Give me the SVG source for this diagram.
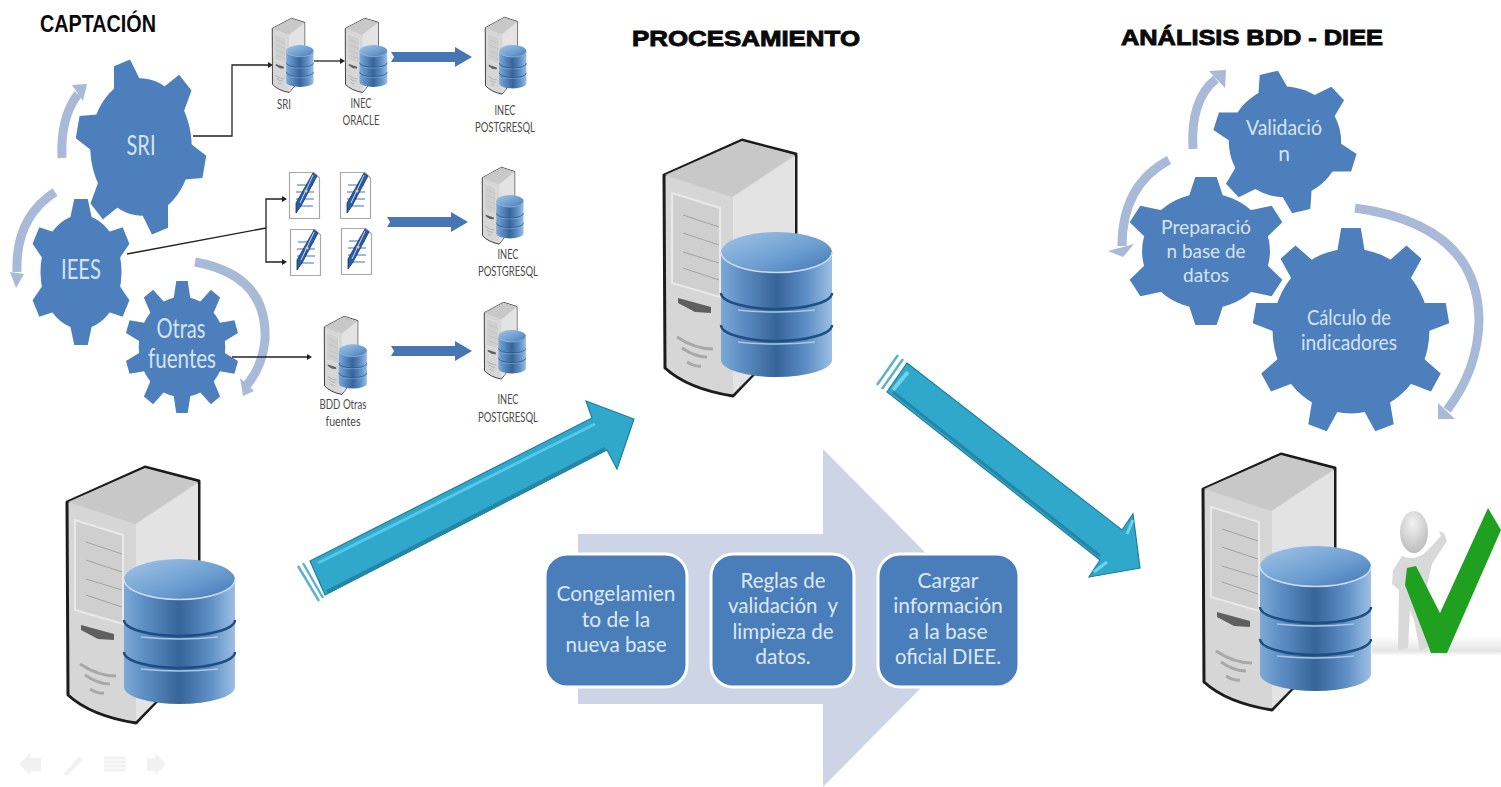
<svg xmlns="http://www.w3.org/2000/svg" xmlns:xlink="http://www.w3.org/1999/xlink" width="1501" height="787" viewBox="0 0 1501 787">
<style>
text{font-family:"Lato","Liberation Sans",sans-serif;text-anchor:middle}
.gt{fill:#d6e3f2}
.bt{fill:#dde8f5;font-size:21px}
.sm{fill:#4a4a4a;font-size:13px}
.title{font-family:"Liberation Sans",Arial,sans-serif;font-weight:bold;fill:#0a0a0a;text-anchor:start}
.heavy{stroke:#0a0a0a;stroke-width:.9px}
.gear{fill:#4c7fbc}
.cycle{fill:none;stroke:#a9b9d8;stroke-width:9}
.head{fill:#a9b9d8}
.fat{fill:#4676b4}
.ln{fill:none;stroke:#222;stroke-width:1.3}
.nav{fill:#f1f1f1}
.teal{fill:#2fa8cc;stroke:#1f7f9e;stroke-width:1.200}
</style>
<defs>
<linearGradient id="cyl" x1="0" x2="1" y1="0" y2="0"><stop offset="0" stop-color="#7da9d6"/><stop offset=".18" stop-color="#5e8fc4"/><stop offset=".5" stop-color="#376499"/><stop offset=".78" stop-color="#5f90c6"/><stop offset="1" stop-color="#9dbfe4"/></linearGradient>
<linearGradient id="cyltop" x1="0" x2="1" y1="0" y2="1"><stop offset="0" stop-color="#a2c4e6"/><stop offset=".6" stop-color="#6a9ccf"/><stop offset="1" stop-color="#3f76b2"/></linearGradient>
<linearGradient id="shadow" x1="0" x2="0" y1="0" y2="1"><stop offset="0" stop-color="#fff"/><stop offset=".75" stop-color="#e4e4e4"/><stop offset="1" stop-color="#fff"/></linearGradient>
<radialGradient id="headg" cx=".45" cy=".3" r=".8"><stop offset="0" stop-color="#f2f2f2"/><stop offset="1" stop-color="#b5b5b5"/></radialGradient>
<g id="server">
<path d="M1,36 L79,1 L133,15 L133,200 L90,236 L70,257 Q25,250 2,229 Z" fill="#d6d6d6" stroke="#1c1c1c" stroke-width="3" stroke-linejoin="round"/>
<path d="M2,36 L79,2 L132,16 L69,58 Z" fill="#c8c8c8"/>
<path d="M70,58 L132,17 L132,200 L90,235 L70,255 Z" fill="#e3e3e3"/>
<path d="M9,54 L57,69 L57,158 L9,144 Z" fill="#cfcfcf" stroke="#e9e9e9" stroke-width="2"/>
<path d="M20,76 L56,88 M20,94 L56,106 M20,113 L56,124 M20,129 L56,141" stroke="#a3a3a3" fill="none"/>
<path d="M15,159 L48,168 L48,174 L32,173 L15,164 Z" fill="#5f5f5f"/>
<path d="M14,198 Q32,210 50,210 M19,209 Q32,218 44,218 M24,223 Q32,228 38,227" stroke="#a8a8a8" stroke-width="3" fill="none"/>
<path d="M58,113 V221 A55.5,17 0 0 0 169,221 V113 Z" fill="url(#cyl)"/>
<ellipse cx="113.500" cy="113.500" rx="55.500" ry="20.500" fill="url(#cyltop)"/>
<path d="M58,113 A55.500,20.500 0 0 0 169,113" fill="none" stroke="#c9ddf2" stroke-width="1.500"/>
<path d="M58,154 A55.500,16 0 0 0 169,154 M58,186 A55.500,16 0 0 0 169,186" fill="none" stroke="#1f4f82" stroke-width="2.500"/>
<path d="M75,171 Q113,175 152,171 M75,203 Q113,207 152,203" fill="none" stroke="#a9c8e8" stroke-width="1.500"/>
</g>
<polygon id="t" points="-22,-70 -13,-100 13,-100 22,-70"/>
<polygon id="tn" points="-15,-72 -10,-100 10,-100 15,-72"/>
<g id="gear6"><circle r="78"/><use href="#t"/><use href="#t" transform="rotate(60)"/><use href="#t" transform="rotate(120)"/><use href="#t" transform="rotate(180)"/><use href="#t" transform="rotate(240)"/><use href="#t" transform="rotate(300)"/></g>
<g id="gear9"><circle r="80"/><use href="#tn"/><use href="#tn" transform="rotate(40)"/><use href="#tn" transform="rotate(80)"/><use href="#tn" transform="rotate(120)"/><use href="#tn" transform="rotate(160)"/><use href="#tn" transform="rotate(200)"/><use href="#tn" transform="rotate(240)"/><use href="#tn" transform="rotate(280)"/><use href="#tn" transform="rotate(320)"/></g>
<g id="gear10"><circle r="76"/><use href="#tn"/><use href="#tn" transform="rotate(36)"/><use href="#tn" transform="rotate(72)"/><use href="#tn" transform="rotate(108)"/><use href="#tn" transform="rotate(144)"/><use href="#tn" transform="rotate(180)"/><use href="#tn" transform="rotate(216)"/><use href="#tn" transform="rotate(252)"/><use href="#tn" transform="rotate(288)"/><use href="#tn" transform="rotate(324)"/></g>
<g id="doc">
<path d="M.5,.5 H25 L30.500,6 V46.500 H.5 Z" fill="#fff" stroke="#a9a9a9" stroke-width="1.200"/>
<path d="M8,13 H24 M7,20 H25 M7,27 H25 M10,34 H24" stroke="#7ea3d6" stroke-width="1.300" fill="none"/>
<path d="M24,1 L28,4 L12,34 L7,41 L7,31 Z" fill="#2a5ca8" stroke="#16336a" stroke-width=".8"/>
<path d="M24,3 L11,31" stroke="#c9dcf4" stroke-width="1"/>
<circle cx="17" cy="19" r="1.600" fill="#d9c98c"/>
</g>
<polygon id="fat" points="0,-5 3,0 0,5 64,5 64,10 81,0 64,-10 64,-5" class="fat"/>
</defs>

<rect width="1501" height="787" fill="#fff"/>

<g id="process-arrow"><polygon points="578,534 823,534 823,449 990,618 823,787 823,704 578,704" fill="#cdd4e5"/></g>

<g id="titles">
<text class="title" x="40" y="32" font-size="24" textLength="116" lengthAdjust="spacingAndGlyphs">CAPTACIÓN</text>
<text class="title heavy" x="632" y="46" font-size="22" textLength="228" lengthAdjust="spacingAndGlyphs">PROCESAMIENTO</text>
<text class="title heavy" x="1121" y="45" font-size="22" textLength="262" lengthAdjust="spacingAndGlyphs">ANÁLISIS BDD - DIEE</text>
</g>

<g id="cycle-arrows">
<path class="cycle" d="M62,158 Q60,118 78,94"/><polygon class="head" points="72,85 87,84 83,101"/>
<path class="cycle" d="M55,192 Q15,218 17,272"/><polygon class="head" points="10,272 24,274 16,288"/>
<path class="cycle" d="M195,262 Q268,275 265,340 Q262,368 246,386"/><polygon class="head" points="240,378 254,391 243,396"/>
<path class="cycle" d="M1193,149 Q1190,100 1216,79"/><polygon class="head" points="1209,71 1226,70 1225,88"/>
<path class="cycle" d="M1169,160 Q1122,185 1122,246"/><polygon class="head" points="1108,251 1134,244 1123,257"/>
<path class="cycle" d="M1355,208 Q1478,225 1479,320 Q1478,370 1447,410"/><polygon class="head" points="1438,403 1455,419 1438,419"/>
</g>

<g id="gear-sri" class="gear"><use href="#gear6" transform="translate(141,147) scale(.65,.88) rotate(-17)"/><text class="gt" x="141" y="155" font-size="27" textLength="29" lengthAdjust="spacingAndGlyphs">SRI</text></g>
<g id="gear-iees" class="gear"><use href="#gear6" transform="translate(81,272) scale(.52,.73)"/><text class="gt" x="81" y="279" font-size="27" textLength="40" lengthAdjust="spacingAndGlyphs">IEES</text></g>
<g id="gear-otras" class="gear"><use href="#gear10" transform="translate(182,347) scale(.57,.66)"/><text class="gt" x="181" y="338" font-size="27" textLength="49" lengthAdjust="spacingAndGlyphs">Otras</text><text class="gt" x="182" y="368" font-size="27" textLength="68" lengthAdjust="spacingAndGlyphs">fuentes</text></g>
<g id="gear-validacion" class="gear"><use href="#gear6" transform="translate(1285,142) scale(.72,.71) rotate(-13)"/><text class="gt" x="1284" y="135" font-size="21" textLength="76" lengthAdjust="spacingAndGlyphs">Validació</text><text class="gt" x="1284" y="161" font-size="21">n</text></g>
<g id="gear-preparacion" class="gear"><use href="#gear6" transform="translate(1206,251) scale(.82,.74)"/><text class="gt" x="1206" y="234" font-size="20" textLength="90" lengthAdjust="spacingAndGlyphs">Preparació</text><text class="gt" x="1206" y="258" font-size="20" textLength="79" lengthAdjust="spacingAndGlyphs">n base de</text><text class="gt" x="1206" y="282" font-size="20" textLength="46" lengthAdjust="spacingAndGlyphs">datos</text></g>
<g id="gear-calculo" class="gear"><use href="#gear9" transform="translate(1351,331) scale(.98,1.03)"/><text class="gt" x="1349" y="325" font-size="20.500" textLength="84" lengthAdjust="spacingAndGlyphs">Cálculo de</text><text class="gt" x="1349" y="350" font-size="20.500" textLength="96" lengthAdjust="spacingAndGlyphs">indicadores</text></g>

<g id="connectors">
<path class="ln" d="M193,136 H232 V65 H270"/><path d="M268,62 L273,65 L268,68 Z" fill="#222"/>
<path class="ln" d="M314,61 H342"/><path d="M340,58 L345,61 L340,64 Z" fill="#222"/>
<path class="ln" d="M127,254 L266,228 M286,199 H266 V262 H284"/><path d="M282,196 L287,199 L282,202 Z M282,259 L287,262 L282,265 Z" fill="#222"/>
<path class="ln" d="M232,357 H309"/><path d="M307,354 L312,357 L307,360 Z" fill="#222"/>
<use href="#fat" transform="translate(391,57)"/>
<use href="#fat" transform="translate(387,222)"/>
<use href="#fat" transform="translate(391,351)"/>
</g>

<g id="server-sri"><use href="#server" transform="translate(272,18) scale(.246,.29)"/><text class="sm" x="284" y="109" textLength="14" lengthAdjust="spacingAndGlyphs">SRI</text></g>
<g id="server-oracle"><use href="#server" transform="translate(345,18) scale(.25,.29)"/><text class="sm" x="361" y="108" textLength="21" lengthAdjust="spacingAndGlyphs">INEC</text><text class="sm" x="361" y="125" textLength="37" lengthAdjust="spacingAndGlyphs">ORACLE</text></g>
<g id="server-pg1"><use href="#server" transform="translate(485,17) scale(.245,.3)"/><text class="sm" x="505" y="115" textLength="21" lengthAdjust="spacingAndGlyphs">INEC</text><text class="sm" x="505" y="132" textLength="60" lengthAdjust="spacingAndGlyphs">POSTGRESQL</text></g>
<g id="docs"><use href="#doc" transform="translate(289,172)"/><use href="#doc" transform="translate(340,172)"/><use href="#doc" transform="translate(290,229)"/><use href="#doc" transform="translate(341,228)"/></g>
<g id="server-pg2"><use href="#server" transform="translate(482,167) scale(.246,.3)"/><text class="sm" x="508" y="259" textLength="21" lengthAdjust="spacingAndGlyphs">INEC</text><text class="sm" x="508" y="276" textLength="60" lengthAdjust="spacingAndGlyphs">POSTGRESQL</text></g>
<g id="server-otras"><use href="#server" transform="translate(324,316) scale(.254,.305)"/><text class="sm" x="343" y="409" textLength="47" lengthAdjust="spacingAndGlyphs">BDD Otras</text><text class="sm" x="343" y="426" textLength="35" lengthAdjust="spacingAndGlyphs">fuentes</text></g>
<g id="server-pg3"><use href="#server" transform="translate(484,302) scale(.248,.3)"/><text class="sm" x="508" y="404" textLength="21" lengthAdjust="spacingAndGlyphs">INEC</text><text class="sm" x="508" y="422" textLength="60" lengthAdjust="spacingAndGlyphs">POSTGRESQL</text></g>

<g id="server-source"><use href="#server" transform="translate(66,466)"/></g>
<g id="server-proc"><use href="#server" transform="translate(663,139)"/></g>
<g id="server-final"><use href="#server" transform="translate(1202,453)"/></g>

<g id="arrow-up">
<path d="M298,566 L319,601 M303,563 L323,598" stroke="#5fb2c8" stroke-width="2.500" fill="none"/>
<polygon class="teal" points="310,561 592,418 586,401 634,419 617,469 607,450 325,595"/>
<path d="M318,563 L595,424" stroke="#55c8e6" stroke-width="3" fill="none"/>
<path d="M327,592 L605,449" stroke="#2587a6" stroke-width="4" fill="none"/>
</g>
<g id="arrow-down">
<path d="M898,355 L877,385 M903,359 L882,389" stroke="#5fb2c8" stroke-width="2.500" fill="none"/>
<polygon class="teal" points="907,363 1122,530 1133,514 1140,568 1089,577 1100,560 887,392"/>
<path d="M908,372 L893,390" stroke="#6fd3ea" stroke-width="4" fill="none"/>
<path d="M893,392 L1100,556" stroke="#2587a6" stroke-width="3" fill="none"/>
<path d="M1127,534 L1133,520" stroke="#6fd3ea" stroke-width="3" fill="none"/>
<path d="M1094,572 L1107,562" stroke="#6fd3ea" stroke-width="3" fill="none"/>
</g>

<g id="box-1"><rect x="545" y="554" width="142" height="133" rx="22" fill="#4a7ebb" stroke="#fff" stroke-width="3"/><text class="bt" x="616" y="601" textLength="119" lengthAdjust="spacingAndGlyphs">Congelamien</text><text class="bt" x="616" y="627">to de la</text><text class="bt" x="616" y="652" textLength="101" lengthAdjust="spacingAndGlyphs">nueva base</text></g>
<g id="box-2"><rect x="711" y="554" width="143" height="133" rx="22" fill="#4a7ebb" stroke="#fff" stroke-width="3"/><text class="bt" x="783" y="588" textLength="85" lengthAdjust="spacingAndGlyphs">Reglas de</text><text class="bt" x="783" y="613" xml:space="preserve" textLength="110" lengthAdjust="spacingAndGlyphs">validación  y</text><text class="bt" x="783" y="639" textLength="101" lengthAdjust="spacingAndGlyphs">limpieza de</text><text class="bt" x="783" y="664">datos.</text></g>
<g id="box-3"><rect x="878" y="554" width="141" height="133" rx="22" fill="#4a7ebb" stroke="#fff" stroke-width="3"/><text class="bt" x="948" y="588">Cargar</text><text class="bt" x="948" y="613">información</text><text class="bt" x="948" y="639">a la base</text><text class="bt" x="948" y="664" textLength="106" lengthAdjust="spacingAndGlyphs">oficial DIEE.</text></g>

<g id="check-person">
<rect x="1372" y="636" width="129" height="20" fill="url(#shadow)"/>
<path d="M1402,556 Q1416,562 1428,550 L1441,536 L1439,531 L1444,533 L1447,541 L1432,564 L1426,590 L1424,620 L1428,647 L1420,651 L1414,620 L1410,610 L1408,648 L1398,650 L1399,590 L1392,584 L1393,570 Z" fill="#d9d9d9"/>
<ellipse cx="1414" cy="532" rx="14" ry="21" fill="url(#headg)"/>
<polygon points="1407,568 1416,566 1440,613 1488,508 1501,530 1447,653 1431,653 1405,585" fill="#1fa01f"/>
</g>

<g id="nav">
<polygon class="nav" points="19,764 30,753 30,758 41,758 41,771 30,771 30,775"/>
<polygon class="nav" points="63,775 79,756 83,760 68,775"/>
<path d="M104,758 H126 M104,762 H126 M104,766 H126 M104,770 H126" stroke="#f1f1f1" stroke-width="3" fill="none"/>
<polygon class="nav" points="166,764 155,753 155,758 147,758 147,771 155,771 155,775"/>
</g>
</svg>
